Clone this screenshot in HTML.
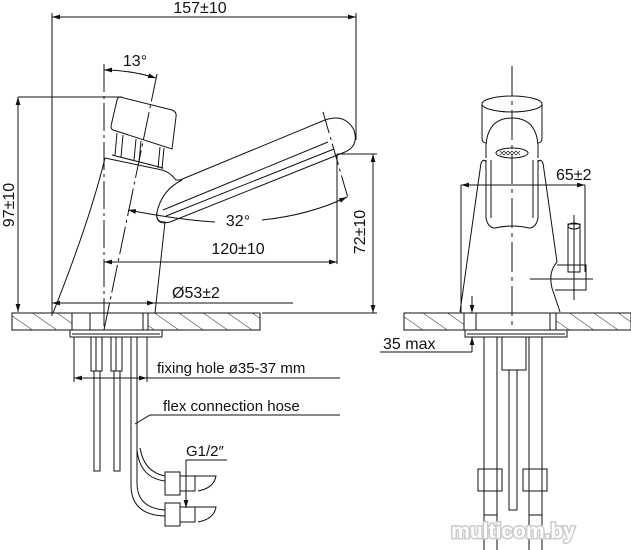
<!DOCTYPE html>
<html><head><meta charset="utf-8"><style>
html,body{margin:0;padding:0;background:#fff;width:631px;height:550px;overflow:hidden}
svg{display:block}
text{font-family:"Liberation Sans",sans-serif;fill:#111}
</style></head><body>
<svg width="631" height="550" viewBox="0 0 631 550" xmlns="http://www.w3.org/2000/svg">
<defs>
<pattern id="h" patternUnits="userSpaceOnUse" width="14" height="14" patternTransform="rotate(-55)">
<line x1="0" y1="0" x2="0" y2="14" stroke="#222" stroke-width="1"/>
</pattern>
<marker id="a" viewBox="0 0 10 6" refX="10" refY="3" markerWidth="8" markerHeight="5" orient="auto-start-reverse"><path d="M0,0L10,3L0,6z" fill="#111"/></marker>
</defs>
<g fill="none" stroke="#111" stroke-width="1">
<line x1="52" y1="17" x2="356" y2="17" marker-start="url(#a)" marker-end="url(#a)"/>
<line x1="52" y1="13" x2="52" y2="316"/>
<line x1="356" y1="13" x2="356" y2="140"/>
<line x1="18" y1="97" x2="122" y2="97"/>
<line x1="18" y1="97" x2="18" y2="312" marker-start="url(#a)" marker-end="url(#a)"/>
<line x1="104" y1="64" x2="104" y2="330" stroke-dasharray="28,4,3,4"/>
<line x1="157" y1="74" x2="104" y2="330" stroke-dasharray="28,4,3,4"/>
<path d="M104,70 Q130,70 156,78" marker-start="url(#a)" marker-end="url(#a)"/>
<path d="M120,97 L172,110 Q177,112 176,117 L172,149 L113,130 Q111,129 111,126 L117,100 Q118,97 120,97Z"/>
<path d="M117,133 L115,155 M123,135 L121,157 M136,139 L134,160 M141,141 L139,162 M160,147 L158,168 M164,148 L162,169"/>
<path d="M112,155 L163,168"/>
<path d="M105,158 L162,170 Q170,172 176,180 L182,180"/>
<path d="M53,313 Q90,220 105,158"/>
<path d="M182,180 Q162,190 157,212 Q155,222 165,222 L155,313"/>
<path d="M180,180 L325,120 Q345,113 354,130 Q359,146 345,152 L170,222 Q155,226 157,212"/>
<path d="M163,210 L328,142 M166,216 L334,149"/>
<line x1="323" y1="112" x2="348" y2="198" stroke-dasharray="22,4,3,4"/>
<path d="M128,210 Q180,220 215,222" marker-start="url(#a)"/>
<path d="M262,220 Q310,215 347,197" marker-end="url(#a)"/>
<line x1="104" y1="262" x2="337" y2="262" marker-start="url(#a)" marker-end="url(#a)"/>
<line x1="337" y1="154" x2="337" y2="264"/>
<line x1="337" y1="154" x2="377" y2="154"/>
<line x1="373" y1="154" x2="373" y2="313" marker-start="url(#a)" marker-end="url(#a)"/>
<line x1="262" y1="313" x2="377" y2="313"/>
<line x1="52" y1="303" x2="155" y2="303" marker-start="url(#a)" marker-end="url(#a)"/>
<line x1="155" y1="303" x2="293" y2="303"/>
<rect x="12" y="313" width="60" height="17" fill="url(#h)"/>
<rect x="148" y="313" width="112" height="17" fill="url(#h)"/>
<line x1="72" y1="313" x2="148" y2="313"/>
<line x1="90" y1="313" x2="90" y2="330"/><line x1="143" y1="313" x2="143" y2="330"/>
<rect x="70" y="330" width="92" height="7"/>
<line x1="72" y1="334" x2="160" y2="334"/>
<line x1="74" y1="337" x2="74" y2="382"/><line x1="147" y1="337" x2="147" y2="382"/>
<line x1="74" y1="378" x2="147" y2="378" marker-start="url(#a)" marker-end="url(#a)"/>
<line x1="147" y1="378" x2="340" y2="378"/>
<rect x="91" y="337" width="11" height="34"/><rect x="111" y="337" width="11" height="34"/>
<line x1="96" y1="337" x2="96" y2="371"/><line x1="116" y1="337" x2="116" y2="371"/>
<rect x="94" y="371" width="6" height="100" stroke-dasharray="1,1.5"/>
<rect x="114" y="371" width="6" height="100" stroke-dasharray="1,1.5"/>
<rect x="94" y="371" width="6" height="100"/><rect x="114" y="371" width="6" height="100"/>
<path d="M131,337 L131,485 Q131,515 165,516"/>
<path d="M137,337 L137,483 Q137,508 165,510"/>
<path d="M137,450 Q140,478 165,481"/>
<path d="M140,448 Q144,472 165,476"/>
<path d="M135,424 L150,415 L340,415"/>
<rect x="165" y="472" width="15" height="23"/><rect x="180" y="476" width="15" height="15"/>
<path d="M195,476 L216,476 Q214,488 198,491"/>
<rect x="165" y="503" width="15" height="23"/><rect x="180" y="507" width="15" height="15"/>
<path d="M195,507 L216,507 Q214,519 198,522"/>
<line x1="186" y1="460" x2="227" y2="460"/>
<line x1="186" y1="460" x2="186" y2="508" marker-end="url(#a)"/>

<line x1="512" y1="66" x2="512" y2="330" stroke-dasharray="30,5,4,5"/>
<ellipse cx="512" cy="104" rx="30" ry="8"/>
<path d="M482,104 L482,138 Q482,143 486,143 M542,104 L542,138 Q542,143 538,143"/>
<path d="M486,145 Q488,118 512,118 Q536,118 538,145 L538,158 M486,145 L486,158"/>
<ellipse cx="512" cy="153" rx="16" ry="5"/>
<path d="M500,151 l4,4 l4,-4 l4,4 l4,-4 l4,4 M500,155 l4,-4 l4,4 l4,-4 l4,4 l4,-4" stroke-width="0.7"/>
<path d="M486,160 L486,218 Q488,228 495,228 Q512,224 529,228 Q536,228 538,218 L538,160"/>
<path d="M491,160 L491,218 M533,160 L533,218"/>
<path d="M481,163 Q484,158 486,162 M543,163 Q540,158 538,162"/>
<path d="M481,163 L460,312 M543,163 L557,262 Q548,272 552,288 L560,312"/>
<rect x="568" y="224" width="12" height="48"/>
<ellipse cx="574" cy="226" rx="6" ry="3"/>
<path d="M557,265 L586,265 L586,290 L555,290"/>
<line x1="530" y1="279" x2="593" y2="279"/>
<line x1="574" y1="215" x2="574" y2="300"/>
<line x1="461" y1="185" x2="585" y2="185" marker-start="url(#a)" marker-end="url(#a)"/>
<line x1="461" y1="185" x2="461" y2="313"/><line x1="585" y1="185" x2="585" y2="272"/>
<rect x="404" y="313" width="60" height="17" fill="url(#h)"/>
<rect x="556" y="313" width="75" height="17" fill="url(#h)"/>
<line x1="464" y1="313" x2="556" y2="313"/>
<line x1="476" y1="313" x2="476" y2="330"/><line x1="550" y1="313" x2="550" y2="330"/>
<rect x="465" y="330" width="102" height="7"/>
<line x1="467" y1="334" x2="565" y2="334"/>
<line x1="472" y1="296" x2="472" y2="313" marker-end="url(#a)"/>
<line x1="472" y1="352" x2="472" y2="337" marker-end="url(#a)"/>
<line x1="380" y1="352" x2="472" y2="352"/>
<path d="M484,337 L484,550 M497,337 L497,550 M529,337 L529,550 M542,337 L542,550"/>
<rect x="502" y="337" width="24" height="33"/>
<rect x="509" y="370" width="8" height="140" stroke-dasharray="1,1.5"/>
<rect x="509" y="370" width="8" height="140"/>
<rect x="478" y="469" width="24" height="22"/><rect x="523" y="469" width="24" height="22"/>
<path d="M484,491 L484,515 L497,515 M529,515 L542,515"/>
</g>
<g font-size="16">
<text x="200" y="13" text-anchor="middle">157±10</text>
<text x="135" y="66" text-anchor="middle">13°</text>
<text x="238" y="226" text-anchor="middle">32°</text>
<text x="238" y="254" text-anchor="middle">120±10</text>
<text x="196" y="298" text-anchor="middle">Ø53±2</text>
<text transform="translate(14,205) rotate(-90)" text-anchor="middle">97±10</text>
<text transform="translate(365,232) rotate(-90)" text-anchor="middle">72±10</text>
<text x="157" y="373" font-size="15">fixing hole  ø35-37 mm</text>
<text x="163" y="411" font-size="15">flex connection hose</text>
<text x="186" y="456" font-size="15">G1/2″</text>
<text x="556" y="180">65±2</text>
<text x="383" y="349">35 max</text>
</g>
<text x="513" y="538" text-anchor="middle" font-size="21" font-weight="bold" style="fill:#fff;stroke:#ccc;stroke-width:3;paint-order:stroke">multicom.by</text>
</svg>
</body></html>
